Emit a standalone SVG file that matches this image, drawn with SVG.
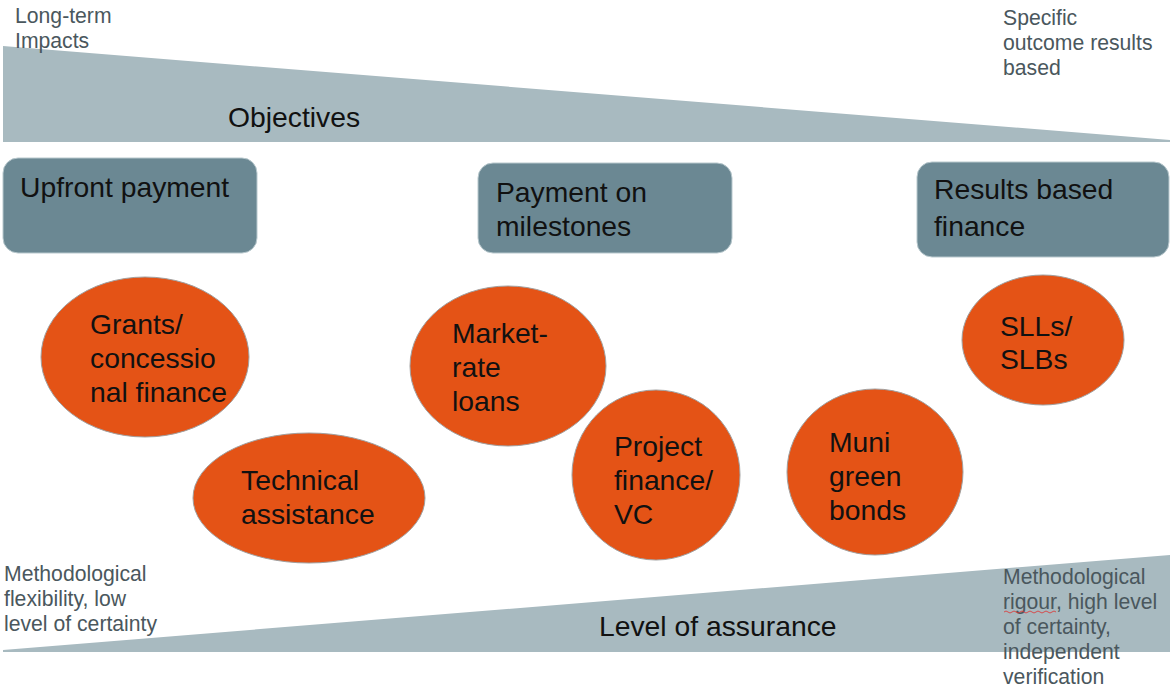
<svg xmlns="http://www.w3.org/2000/svg" width="1170" height="689" viewBox="0 0 1170 689">
<style>
.wedge{fill:#A8BAC0}
.box{fill:#6B8893;stroke:#B8C8CD;stroke-width:1}
.oval{fill:#E45316;stroke:#A0A0A0;stroke-width:1}
.big{font-family:"Liberation Sans",Arial,sans-serif;font-size:28.3px;fill:#111}
.small{font-family:"Liberation Sans",Arial,sans-serif;font-size:21.2px;fill:#4A575D}
</style>
<rect width="1170" height="689" fill="#fff"/>
<g id="objectives">
<polygon class="wedge" points="3,46 1170,140 1170,142 3,142"/>
<text class="big" x="228" y="127">Objectives</text>
</g>
<g id="assurance">
<polygon class="wedge" points="3,650 1170,555 1170,652 3,652"/>
<text class="big" x="599" y="636">Level of assurance</text>
</g>
<g id="label-longterm">
<text class="small" x="15" y="23">Long-term</text>
<text class="small" x="15" y="48">Impacts</text>
</g>
<g id="label-specific">
<text class="small" x="1003" y="25">Specific</text>
<text class="small" x="1003" y="50">outcome results</text>
<text class="small" x="1003" y="75">based</text>
</g>
<g id="label-flex">
<text class="small" x="4" y="581">Methodological</text>
<text class="small" x="4" y="606">flexibility, low</text>
<text class="small" x="4" y="631">level of certainty</text>
</g>
<g id="label-rigour">
<text class="small" x="1003" y="584">Methodological</text>
<text class="small" x="1003" y="609">rigour, high level</text>
<text class="small" x="1003" y="634">of certainty,</text>
<text class="small" x="1003" y="659">independent</text>
<text class="small" x="1003" y="684">verification</text>
<path d="M1004,612 q2,-2 4,0 t4,0 t4,0 t4,0 t4,0 t4,0 t4,0 t4,0 t4,0 t4,0 t4,0 t4,0 t4,0" fill="none" stroke="#E03030" stroke-width="0.8"/>
</g>
<g id="upfront">
<rect class="box" x="3" y="158" width="254" height="95" rx="15"/>
<text class="big" x="20" y="197">Upfront payment</text>
</g>
<g id="milestones">
<rect class="box" x="478" y="163" width="254" height="90" rx="15"/>
<text class="big" x="496" y="202">Payment on</text>
<text class="big" x="496" y="236">milestones</text>
</g>
<g id="results">
<rect class="box" x="917" y="162" width="252" height="95" rx="15"/>
<text class="big" x="934" y="199">Results based</text>
<text class="big" x="934" y="236">finance</text>
</g>
<g id="grants">
<ellipse class="oval" cx="145" cy="357" rx="104" ry="80"/>
<text class="big" x="90" y="334">Grants/</text>
<text class="big" x="90" y="368">concessio</text>
<text class="big" x="90" y="402">nal finance</text>
</g>
<g id="technical">
<ellipse class="oval" cx="309" cy="498" rx="116" ry="65"/>
<text class="big" x="241" y="490">Technical</text>
<text class="big" x="241" y="524">assistance</text>
</g>
<g id="market">
<ellipse class="oval" cx="508" cy="366" rx="98" ry="80"/>
<text class="big" x="452" y="343">Market-</text>
<text class="big" x="452" y="377">rate</text>
<text class="big" x="452" y="411">loans</text>
</g>
<g id="project">
<ellipse class="oval" cx="656" cy="475" rx="84" ry="85"/>
<text class="big" x="614" y="456">Project</text>
<text class="big" x="614" y="490">finance/</text>
<text class="big" x="614" y="524">VC</text>
</g>
<g id="muni">
<ellipse class="oval" cx="875" cy="472" rx="88" ry="83"/>
<text class="big" x="829" y="452">Muni</text>
<text class="big" x="829" y="486">green</text>
<text class="big" x="829" y="520">bonds</text>
</g>
<g id="sll">
<ellipse class="oval" cx="1043" cy="340" rx="81" ry="65"/>
<text class="big" x="1000" y="336">SLLs/</text>
<text class="big" x="1000" y="369">SLBs</text>
</g>
<g id="connectors"></g>
</svg>
